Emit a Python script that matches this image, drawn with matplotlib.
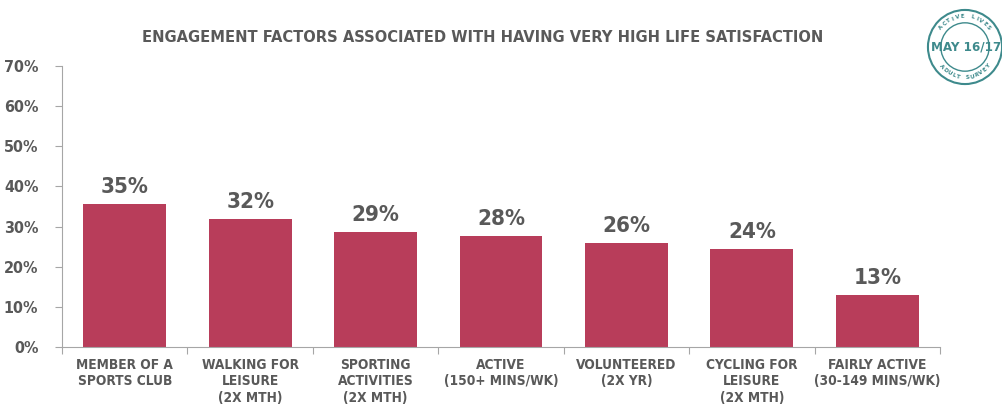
import numpy as np
import matplotlib.pyplot as plt
from matplotlib.patches import Circle

# data
categories = ['MEMBER OF A\nSPORTS CLUB', 'WALKING FOR\nLEISURE\n(2X MTH)', 'SPORTING\nACTIVITIES\n(2X MTH)',
              'ACTIVE\n(150+ MINS/WK)', 'VOLUNTEERED\n(2X YR)', 'CYCLING FOR\nLEISURE\n(2X MTH)',
              'FAIRLY ACTIVE\n(30-149 MINS/WK)']
values = [35.5, 31.9, 28.6, 27.7, 25.9, 24.4, 13.0]
value_labels = ['35%', '32%', '29%', '28%', '26%', '24%', '13%']
yticks = [0, 10, 20, 30, 40, 50, 60, 70]

bar_col = '#B83D5A'
txt_col = '#595959'
teal = '#3E8A8C'
fnt = dict(family='DejaVu Sans', stretch='condensed', weight='bold')

fig = plt.figure(figsize=(10.03, 4.09), dpi=100)
fig.patch.set_facecolor('white')
ax = fig.add_axes([62/1003, 62/409, (940-62)/1003, (347-66)/409])

x = np.arange(len(values))
ax.bar(x, values, width=0.66, color=bar_col)
for xi, v, lab in zip(x, values, value_labels):
    ax.text(xi, v + 1.8, lab, ha='center', va='bottom', fontsize=16, color=txt_col, **fnt)

ax.set_xlim(-0.5, len(values) - 0.5)
ax.set_ylim(0, 70)
ax.set_yticks(yticks)
ax.set_yticklabels([f'{t}%' for t in yticks], fontsize=11.5, color=txt_col, **fnt)
ax.tick_params(axis='y', length=5, color='#A6A6A6', pad=12)

ax.set_xticks(np.arange(len(values) + 1) - 0.5, minor=False)
ax.set_xticklabels([])
ax.tick_params(axis='x', length=5, color='#A6A6A6')
for xi, c in zip(x, categories):
    ax.text(xi, -2.8, c, ha='center', va='top', fontsize=9.8, color=txt_col,
            linespacing=1.2, **fnt)

for s in ['top', 'right']:
    ax.spines[s].set_visible(False)
for s in ['left', 'bottom']:
    ax.spines[s].set_color('#A6A6A6')

fig.text(483/1003, 1 - 37/409, 'ENGAGEMENT FACTORS ASSOCIATED WITH HAVING VERY HIGH LIFE SATISFACTION',
         ha='center', va='center', fontsize=11.8, color=txt_col, **fnt)

# logo
lax = fig.add_axes([926/1003, 1 - 86/409, 78/1003, 78/409])
lax.set_xlim(-1, 1)
lax.set_ylim(-1, 1)
lax.set_aspect('equal')
lax.axis('off')
lax.add_patch(Circle((0, 0), 0.95, fill=False, lw=1.5, ec=teal))
lax.add_patch(Circle((0, 0), 0.62, fill=False, lw=1, ec=teal))
lax.text(0.02, 0.0, 'MAY 16/17', ha='center', va='center', fontsize=9.5, color=teal, **fnt)
for txt, a0, a1, r, top in [('ACTIVE LIVES', 140, 40, 0.78, True), ('ADULT SURVEY', 220, 320, 0.78, False)]:
    angs = np.linspace(a0, a1, len(txt))
    for ch, a in zip(txt, angs):
        rad = np.deg2rad(a)
        rot = a - 90 if top else a + 90
        lax.text(r * np.cos(rad), r * np.sin(rad), ch, ha='center', va='center', rotation=rot,
                 fontsize=4.5, color=teal, **fnt)

fig.savefig('out.png', dpi=100)
